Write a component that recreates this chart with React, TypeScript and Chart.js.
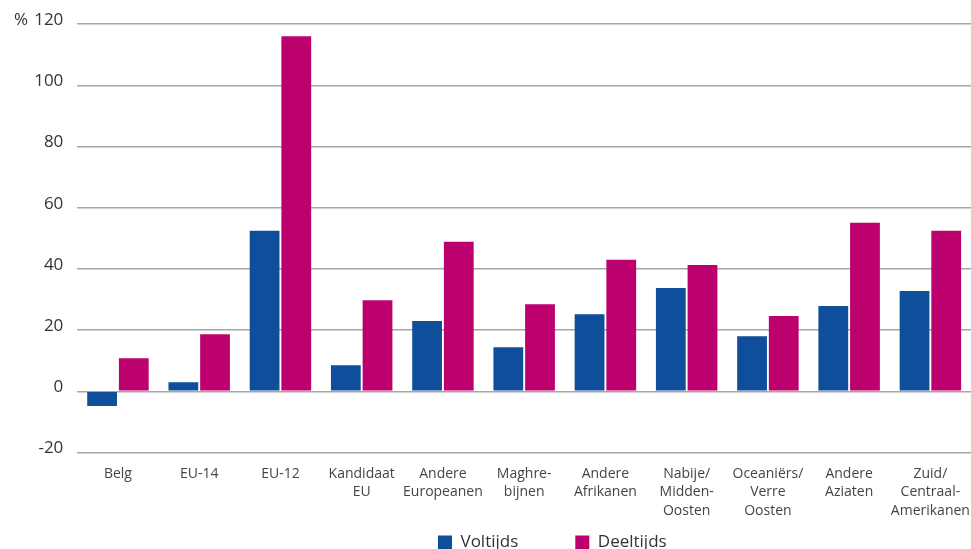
import React, { useEffect, useRef } from "react";
import { Chart, registerables } from "chart.js";

Chart.register(...registerables);

const categories: string[][] = [
  ["Belg"],
  ["EU-14"],
  ["EU-12"],
  ["Kandidaat", "EU"],
  ["Andere", "Europeanen"],
  ["Maghre-", "bijnen"],
  ["Andere", "Afrikanen"],
  ["Nabije/", "Midden-", "Oosten"],
  ["Oceaniërs/", "Verre", "Oosten"],
  ["Andere", "Aziaten"],
  ["Zuid/", "Centraal-", "Amerikanen"],
];

const voltijds: number[] = [-4.8, 3.0, 52.5, 8.5, 23.0, 14.4, 25.2, 33.8, 18.0, 27.9, 32.8];
const deeltijds: number[] = [10.8, 18.7, 116.1, 29.8, 48.9, 28.5, 43.0, 41.3, 24.6, 55.1, 52.5];

const seriesNames = ["Voltijds", "Deeltijds"];
const yMin = -20;
const yMax = 120;
const yStep = 20;

const LEGEND_PAD = 57;
const LEGEND_X = 438;
const LEGEND_ROW_TOP = 534;

const legendPlacer = {
  id: "legendPlacer",
  beforeLayout(chart: any) {
    const lg = chart.legend;
    if (!lg || lg._zeroWrapped) return;
    const orig = lg.fit;
    lg.fit = function (this: any) {
      orig.call(this);
      this.height = 0;
      if (this._minSize) this._minSize.height = 0;
    };
    lg._zeroWrapped = true;
  },
  beforeDraw(chart: any) {
    const lg = chart.legend;
    if (!lg || !lg.lineWidths) return;
    const cur = (lg.left + LEGEND_PAD + lg.right - lg.lineWidths[0]) / 2;
    const dx = LEGEND_X - cur;
    lg.left += dx;
    lg.right += dx;
    lg.top = LEGEND_ROW_TOP - LEGEND_PAD;
    lg.bottom = chart.height;
    lg.height = lg.bottom - lg.top;
  },
};

export default function App() {
  const ref = useRef<HTMLCanvasElement | null>(null);

  useEffect(() => {
    document.body.style.margin = "0";
    const canvas = ref.current;
    if (!canvas) return;
    const font = "'Open Sans', 'Noto Sans', sans-serif";
    const chart = new Chart(canvas, {
      type: "bar",
      data: {
        labels: categories,
        datasets: [
          {
            label: seriesNames[0],
            data: voltijds,
            backgroundColor: "#0e4e9b",
            categoryPercentage: 0.78,
            barPercentage: 0.94,
          },
          {
            label: seriesNames[1],
            data: deeltijds,
            backgroundColor: "#bc006e",
            categoryPercentage: 0.78,
            barPercentage: 0.94,
          },
        ],
      },
      plugins: [legendPlacer],
      options: {
        responsive: false,
        animation: false,
        layout: { padding: { top: 14, right: 0, left: 0, bottom: 29 } },
        plugins: {
          tooltip: { enabled: false },
          legend: {
            position: "bottom",
            labels: {
              boxWidth: 14,
              boxHeight: 14,
              padding: LEGEND_PAD,
              color: "#333",
              font: { family: font, size: 17 },
            },
          },
        },
        scales: {
          x: {
            grid: { display: false, drawTicks: true, tickLength: 12 },
            border: { display: false },
            ticks: {
              color: "#444",
              font: { family: font, size: 14, lineHeight: 1.32 },
              padding: 0,
              maxRotation: 0,
              autoSkip: false,
            },
          },
          y: {
            min: yMin,
            max: yMax,
            border: { display: false },
            grid: { color: "#a6a6a6", lineWidth: 1.5, drawTicks: false },
            ticks: {
              stepSize: yStep,
              padding: 14,
              labelOffset: -4,
              color: "#333",
              font: { family: font, size: 17 },
              callback: (v: any) => (Number(v) === yMax ? "% \u200A" + v : String(v)),
            },
          },
        },
      },
    });
    return () => chart.destroy();
  }, []);

  return (
    <div style={{ width: 971, height: 549, overflow: "hidden" }}>
      <canvas ref={ref} width={971} height={549} />
    </div>
  );
}
